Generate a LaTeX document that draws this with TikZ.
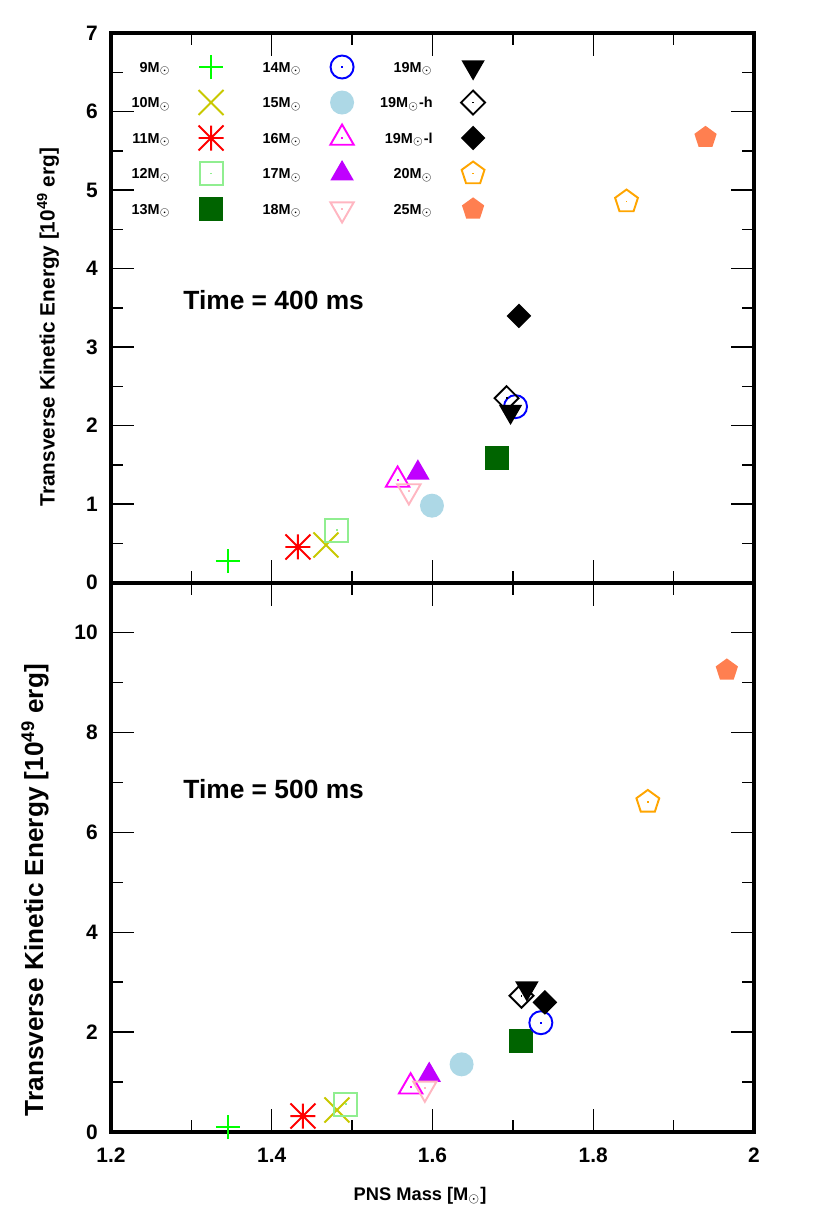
\documentclass[tikz,border=0pt]{standalone}
\usepackage{fontspec}
\setmainfont{Liberation Sans}
\definecolor{cgreen}{RGB}{0,255,0}
\definecolor{colive}{RGB}{200,200,0}
\definecolor{cred}{RGB}{255,0,0}
\definecolor{clgreen}{RGB}{144,238,144}
\definecolor{cdgreen}{RGB}{0,100,0}
\definecolor{cblue}{RGB}{0,0,255}
\definecolor{clblue}{RGB}{173,216,230}
\definecolor{cmag}{RGB}{255,0,255}
\definecolor{cpurple}{RGB}{192,0,255}
\definecolor{cpink}{RGB}{255,182,193}
\definecolor{corange}{RGB}{255,165,0}
\definecolor{ccoral}{RGB}{255,127,80}
\tikzset{
  px/.style={x=0.02cm,y=0.02cm},
  mk/.style={px,line width=1.1pt},
  frame/.style={line width=2.27pt,line join=miter},
  tick/.style={line width=0.85pt},
  ticklab/.style={font=\bfseries\fontsize{11.9}{12}\selectfont,inner sep=0pt},
  leglab/.style={font=\bfseries\fontsize{8.2}{9}\selectfont,inner sep=0pt,anchor=base east},
  timelab/.style={font=\bfseries\fontsize{15}{16}\selectfont,inner sep=0pt,anchor=base west},
  axlab/.style={inner sep=0pt},
  m dot/.pic={\fill[px] (-0.9,-0.9) rectangle (0.9,0.9);},
  m plus/.pic={\draw[mk] (-12,0)--(12,0) (0,-12)--(0,12);},
  m cross/.pic={\draw[mk] (-12.5,-12.5)--(12.5,12.5) (-12.5,12.5)--(12.5,-12.5);},
  m star/.pic={\draw[mk] (-12.5,0)--(12.5,0) (0,-12.5)--(0,12.5)
      (-12.5,-12.5)--(12.5,12.5) (-12.5,12.5)--(12.5,-12.5);},
  m box/.pic={\draw[mk] (-11.5,-11.5) rectangle (11.5,11.5); \pic {m dot};},
  m fbox/.pic={\fill[px] (-12,-12) rectangle (12,12);},
  m circ/.pic={\draw[mk] (0,0) circle[radius=11.5]; \pic {m dot};},
  m fcirc/.pic={\fill[px] (0,0) circle[radius=12];},
  m tri/.pic={\draw[mk] (0,13.5)--(-11.7,-6.75)--(11.7,-6.75)--cycle; \pic {m dot};},
  m ftri/.pic={\fill[px] (0,13.5)--(-11.7,-6.75)--(11.7,-6.75)--cycle;},
  m dtri/.pic={\draw[mk] (0,-13.5)--(-11.7,6.75)--(11.7,6.75)--cycle; \pic {m dot};},
  m fdtri/.pic={\fill[px] (0,-13.5)--(-11.7,6.75)--(11.7,6.75)--cycle;},
  m dia/.pic={\draw[mk] (0,12)--(12,0)--(0,-12)--(-12,0)--cycle; \pic {m dot};},
  m fdia/.pic={\fill[px] (0,12.3)--(12.3,0)--(0,-12.3)--(-12.3,0)--cycle;},
  m pent/.pic={\draw[mk] (0,12)--(11.41,3.71)--(7.05,-9.71)--(-7.05,-9.71)--(-11.41,3.71)--cycle; \pic {m dot};},
  m fpent/.pic={\fill[px] (0,11.7)--(11.13,3.62)--(6.88,-9.47)--(-6.88,-9.47)--(-11.13,3.62)--cycle;},
}
\begin{document}
\begin{tikzpicture}
\useasboundingbox (0,0) rectangle (16.6,-24.3);

% ---------------- top panel ----------------
\begin{scope}[shift={(-17.07cm,-11.654cm)},x=16.075cm,y=1.5706cm]
  \draw[frame] (1.2,0) rectangle (2,7);
  \foreach \v in {1,...,6} {
    \draw[tick] (1.2,\v) -- ++(13pt,0);
    \draw[tick] (2,\v) -- ++(-13pt,0);}
  \foreach \v in {0.5,1.5,...,6.5} {
    \draw[tick] (1.2,\v) -- ++(6.8pt,0);
    \draw[tick] (2,\v) -- ++(-6.8pt,0);}
  \foreach \m in {1.4,1.6,1.8} {
    \draw[tick] (\m,0) -- ++(0,13pt);
    \draw[tick] (\m,7) -- ++(0,-13pt);}
  \foreach \m in {1.3,1.5,1.7,1.9} {
    \draw[tick] (\m,0) -- ++(0,6.8pt);
    \draw[tick] (\m,7) -- ++(0,-6.8pt);}
  \foreach \v in {0,...,7}
    \node[ticklab,anchor=east,xshift=-7.4pt] at (1.2,\v) {\v};
  % data
  \pic[cgreen]  at (1.3455,0.276) {m plus};
  \pic[colive]  at (1.4674,0.48)  {m cross};
  \pic[cred]    at (1.4326,0.455) {m star};
  \pic[clgreen] at (1.4811,0.67)  {m box};
  \pic[cdgreen] at (1.6797,1.589) {m fbox};
  \pic[cblue]   at (1.7033,2.242) {m circ};
  \pic[clblue]  at (1.5993,0.981) {m fcirc};
  \pic[cmag]    at (1.5566,1.308) {m tri};
  \pic[cpurple] at (1.5818,1.40)  {m ftri};
  \pic[cpink]   at (1.5706,1.168) {m dtri};
  \pic[black]   at (1.6971,2.18)  {m fdtri};
  \pic[black]   at (1.6922,2.349) {m dia};
  \pic[black]   at (1.7075,3.397) {m fdia};
  \pic[corange] at (1.8414,4.854) {m pent};
  \pic[ccoral]  at (1.9397,5.669) {m fpent};
\end{scope}

% ---------------- bottom panel ----------------
\begin{scope}[shift={(-17.07cm,-22.64cm)},x=16.075cm,y=0.99873cm]
  \draw[frame] (1.2,0) rectangle (2,11);
  \foreach \v in {2,4,...,10} {
    \draw[tick] (1.2,\v) -- ++(13pt,0);
    \draw[tick] (2,\v) -- ++(-13pt,0);}
  \foreach \v in {1,3,...,9} {
    \draw[tick] (1.2,\v) -- ++(6.8pt,0);
    \draw[tick] (2,\v) -- ++(-6.8pt,0);}
  \foreach \m in {1.4,1.6,1.8} {
    \draw[tick] (\m,0) -- ++(0,13pt);
    \draw[tick] (\m,11) -- ++(0,-13pt);}
  \foreach \m in {1.3,1.5,1.7,1.9} {
    \draw[tick] (\m,0) -- ++(0,6.8pt);
    \draw[tick] (\m,11) -- ++(0,-6.8pt);}
  \foreach \v in {0,2,...,10}
    \node[ticklab,anchor=east,xshift=-7.4pt] at (1.2,\v) {\v};
  \foreach \m/\t in {1.2/1.2,1.4/1.4,1.6/1.6,1.8/1.8,2/2}
    \node[ticklab,anchor=base,yshift=-17.6pt] at (\m,0) {\t};
  % data
  \pic[cgreen]  at (1.3455,0.10)  {m plus};
  \pic[colive]  at (1.4811,0.44)  {m cross};
  \pic[cred]    at (1.4388,0.32)  {m star};
  \pic[clgreen] at (1.4923,0.56)  {m box};
  \pic[cdgreen] at (1.7103,1.822) {m fbox};
  \pic[cblue]   at (1.7348,2.189) {m circ};
  \pic[clblue]  at (1.6362,1.355) {m fcirc};
  \pic[cmag]    at (1.5728,0.907) {m tri};
  \pic[cpurple] at (1.5959,1.141) {m ftri};
  \pic[cpink]   at (1.5905,0.875) {m dtri};
  \pic[black]   at (1.7174,2.88)  {m fdtri};
  \pic[black]   at (1.7108,2.729) {m dia};
  \pic[black]   at (1.7398,2.597) {m fdia};
  \pic[corange] at (1.8679,6.61)  {m pent};
  \pic[ccoral]  at (1.9662,9.25)  {m fpent};
\end{scope}

% ---------------- legend and labels ----------------
\begin{scope}[x=0.02cm,y=-0.02cm]
  \node[leglab] (l9)  at (171,72)    {9M$_\odot$};
  \node[leglab] (l10) at (171,107.5) {10M$_\odot$};
  \node[leglab] (l11) at (171,143)   {11M$_\odot$};
  \node[leglab] (l12) at (171,178.5) {12M$_\odot$};
  \node[leglab] (l13) at (171,214)   {13M$_\odot$};
  \node[leglab] (l14) at (302,72)    {14M$_\odot$};
  \node[leglab] (l15) at (302,107.5) {15M$_\odot$};
  \node[leglab] (l16) at (302,143)   {16M$_\odot$};
  \node[leglab] (l17) at (302,178.5) {17M$_\odot$};
  \node[leglab] (l18) at (302,214)   {18M$_\odot$};
  \node[leglab] (l19) at (433,72)    {19M$_\odot$};
  \node[leglab] (l19h) at (433,107.5) {19M$_\odot$-h};
  \node[leglab] (l19l) at (433,143)   {19M$_\odot$-l};
  \node[leglab] (l20) at (433,178.5) {20M$_\odot$};
  \node[leglab] (l25) at (433,214)   {25M$_\odot$};
  \pic[cgreen]  at (211,67)    {m plus};
  \pic[colive]  at (211,102.5) {m cross};
  \pic[cred]    at (211,138)   {m star};
  \pic[clgreen] at (211,173.5) {m box};
  \pic[cdgreen] at (211,209)   {m fbox};
  \pic[cblue]   at (342,67)    {m circ};
  \pic[clblue]  at (342,102.5) {m fcirc};
  \pic[cmag]    at (342,138)   {m tri};
  \pic[cpurple] at (342,173.5) {m ftri};
  \pic[cpink]   at (342,209)   {m dtri};
  \pic[black]   at (473,67)    {m fdtri};
  \pic[black]   at (473,102.5) {m dia};
  \pic[black]   at (473,138)   {m fdia};
  \pic[corange] at (473,173.5) {m pent};
  \pic[ccoral]  at (473,209)   {m fpent};

  \node[timelab] (t400) at (183,309.5) {Time = 400 ms};
  \node[timelab] (t500) at (183,798) {Time = 500 ms};

  \node[axlab,rotate=90,font=\bfseries\fontsize{11.8}{12}\selectfont] (ylt) at (48,327) {Transverse Kinetic Energy [10\textsuperscript{49} erg]};
  \node[axlab,rotate=90,font=\bfseries\fontsize{14.9}{15}\selectfont] (ylb) at (35,890) {Transverse Kinetic Energy [10\textsuperscript{49} erg]};
  \node[axlab,anchor=base,font=\bfseries\fontsize{10.4}{11}\selectfont] (xl) at (420,1200) {PNS Mass [M$_\odot$]};
\end{scope}
\end{tikzpicture}
\end{document}
